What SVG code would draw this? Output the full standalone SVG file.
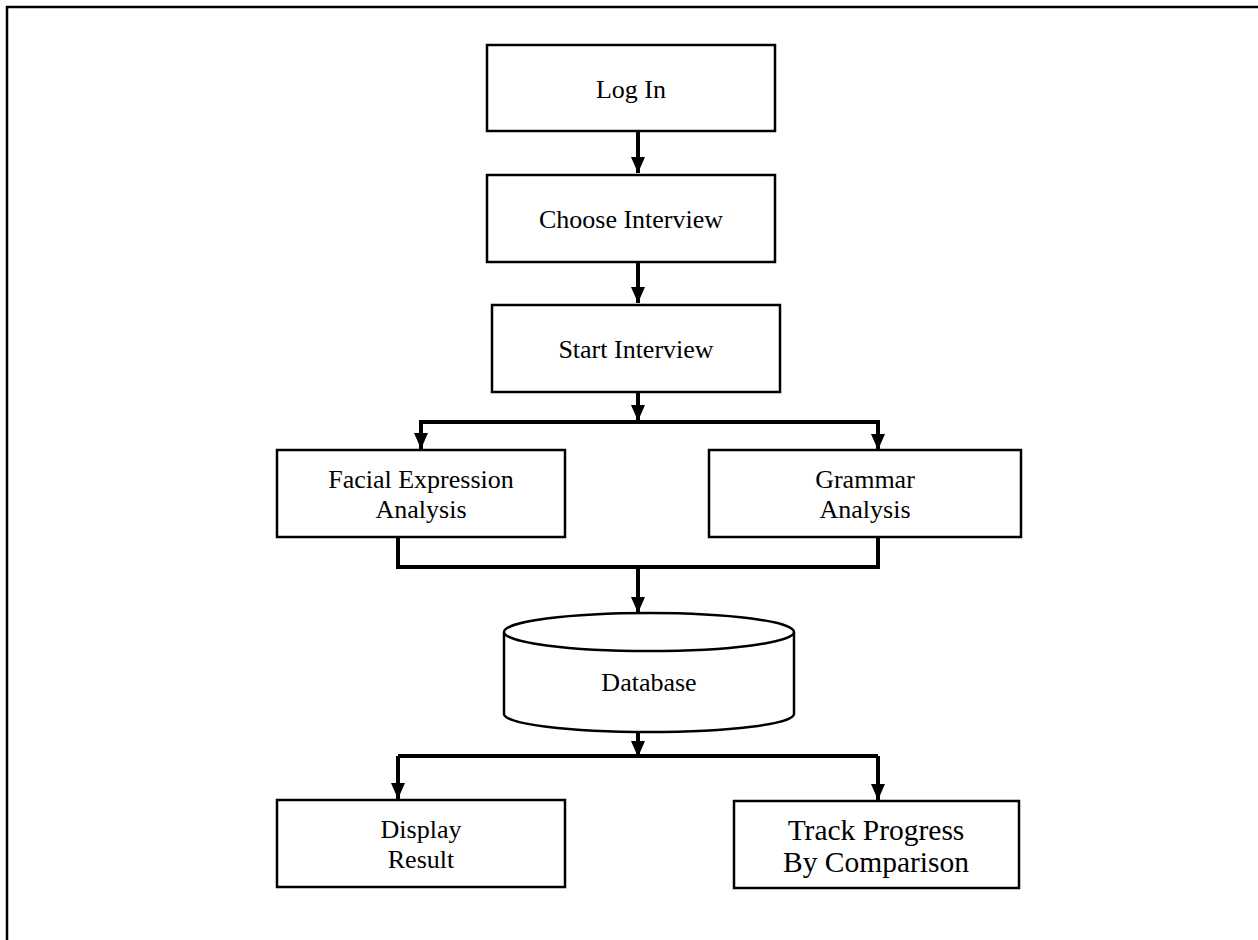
<svg xmlns="http://www.w3.org/2000/svg" width="1258" height="940" viewBox="0 0 1258 940">
<style>
.box{fill:#fff;stroke:#000;stroke-width:2.5}
.t{font-family:"Liberation Serif","Times New Roman",serif;font-size:26px;fill:#000;text-anchor:middle}
.tl{font-size:29.5px}
.c{fill:none;stroke:#000;stroke-width:4}
</style>
<defs>
<marker id="ah" markerWidth="16" markerHeight="14" refX="16" refY="7" orient="auto" markerUnits="userSpaceOnUse">
<path d="M0,0 L16,7 L0,14 Z" fill="#000"/>
</marker>
</defs>
<rect width="1258" height="940" fill="#fff"/>
<path d="M7,940 L7,7 L1258,7" fill="none" stroke="#000" stroke-width="2.5"/>
<g id="login"><rect class="box" x="487" y="45" width="288" height="86"/><text class="t" x="631" y="98">Log In</text></g>
<g id="choose"><rect class="box" x="487" y="175" width="288" height="87"/><text class="t" x="631" y="228">Choose Interview</text></g>
<g id="start"><rect class="box" x="492" y="305" width="288" height="87"/><text class="t" x="636" y="358">Start Interview</text></g>
<g id="facial"><rect class="box" x="277" y="450" width="288" height="87"/><text class="t" x="421" y="488">Facial Expression</text><text class="t" x="421" y="518">Analysis</text></g>
<g id="grammar"><rect class="box" x="709" y="450" width="312" height="87"/><text class="t" x="865" y="488">Grammar</text><text class="t" x="865" y="518">Analysis</text></g>
<g id="database"><path class="box" d="M504,632 L504,714 A145,18 0 0 0 794,714 L794,632"/><ellipse class="box" cx="649" cy="632" rx="145" ry="19"/><text class="t" x="649" y="691">Database</text></g>
<g id="display"><rect class="box" x="277" y="800" width="288" height="87"/><text class="t" x="421" y="838">Display</text><text class="t" x="421" y="868">Result</text></g>
<g id="track"><rect class="box" x="734" y="801" width="285" height="87"/><text class="t tl" x="876" y="840">Track Progress</text><text class="t tl" x="876" y="872">By Comparison</text></g>
<g id="connectors">
<path class="c" d="M638,131 L638,173" marker-end="url(#ah)"/>
<path class="c" d="M638,262 L638,303" marker-end="url(#ah)"/>
<path class="c" d="M638,392 L638,421" marker-end="url(#ah)"/>
<path class="c" d="M421,450 L421,422 L878,422 L878,450" marker-end="url(#ah)"/>
<path class="c" d="M421,422 L421,449" marker-end="url(#ah)"/>
<path class="c" d="M398,537 L398,567 L878,567 L878,537"/>
<path class="c" d="M638,567 L638,613" marker-end="url(#ah)"/>
<path class="c" d="M638,732 L638,757" marker-end="url(#ah)"/>
<path class="c" d="M398,756 L878,756"/>
<path class="c" d="M398,756 L398,799" marker-end="url(#ah)"/>
<path class="c" d="M878,756 L878,800" marker-end="url(#ah)"/>
</g>
</svg>
